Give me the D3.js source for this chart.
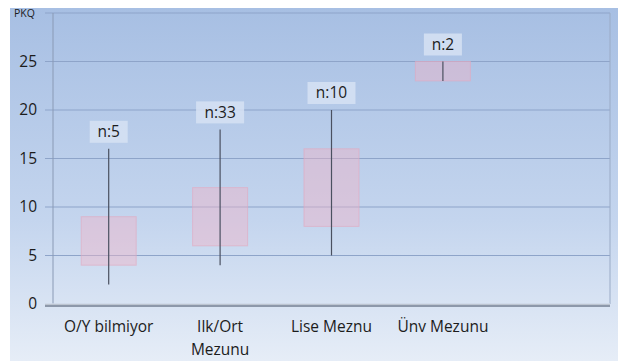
<!DOCTYPE html>
<html>
<head>
  <meta charset="utf-8">
  <title>PKQ</title>
  <script src="https://cdn.jsdelivr.net/npm/d3@7"></script>
  <style>
    body { margin: 0; background: #fff; }
    text { font-family: "Open Sans", sans-serif; fill: #1c1c1c; }
  </style>
</head>
<body>
  <script>
    // veriler
    const categories = ["O/Y bilmiyor", "Ilk/Ort Mezunu", "Lise Meznu", "Ünv Mezunu", ""];
    const boxLow = [4, 6, 8, 23];
    const boxHigh = [9, 12, 16, 25];
    const whiskerLow = [2, 4, 5, 23];
    const whiskerHigh = [16, 18, 20, 25];
    const counts = ["n:5", "n:33", "n:10", "n:2"];
    const yTicks = [0, 5, 10, 15, 20, 25];

    const w = 618, h = 361;
    const mLeft = 53, mRight = 610, mTop = 13, mBottom = 304;

    const svg = d3.select("body").append("svg")
      .attr("width", w).attr("height", h);

    const defs = svg.append("defs");
    const grad = defs.append("linearGradient").attr("id", "bg")
      .attr("x1", 0).attr("y1", 0).attr("x2", 0).attr("y2", 1);
    grad.append("stop").attr("offset", "0%").attr("stop-color", "#a7bfe3");
    grad.append("stop").attr("offset", "60%").attr("stop-color", "#c4d5ee");
    grad.append("stop").attr("offset", "100%").attr("stop-color", "#e6edf7");

    svg.append("rect").attr("x", 10).attr("y", 8)
      .attr("width", w - 10).attr("height", h - 8)
      .attr("fill", "url(#bg)");

    const x = d3.scaleBand().domain(categories.map((c, i) => i))
      .range([mLeft, mRight]).paddingInner(0.5).paddingOuter(0.25);
    const y = d3.scaleLinear().domain([0, 30]).range([mBottom, mTop]);

    // izgara
    svg.append("g").selectAll("line")
      .data(yTicks.concat([30]))
      .join("line")
      .attr("x1", mLeft - 8).attr("x2", mRight)
      .attr("y1", d => y(d)).attr("y2", d => y(d))
      .attr("stroke", "#8ea4c9").attr("stroke-width", 1.2);

    // eksen çizgileri
    svg.append("line").attr("x1", mLeft).attr("x2", mLeft)
      .attr("y1", mTop).attr("y2", mBottom)
      .attr("stroke", "#8a9ab5").attr("stroke-width", 1);
    svg.append("line").attr("x1", mRight).attr("x2", mRight)
      .attr("y1", mTop).attr("y2", mBottom)
      .attr("stroke", "#9aabc6").attr("stroke-width", 1);
    svg.append("line").attr("x1", mLeft - 8).attr("x2", mRight)
      .attr("y1", mBottom + 1.5).attr("y2", mBottom + 1.5)
      .attr("stroke", "#8d98aa").attr("stroke-width", 3);
    svg.append("line").attr("x1", mLeft - 8).attr("x2", mRight)
      .attr("y1", mBottom).attr("y2", mBottom)
      .attr("stroke", "#eef2f8").attr("stroke-width", 1);

    // y etiketleri
    svg.append("g").selectAll("text")
      .data(yTicks)
      .join("text")
      .attr("x", 37).attr("y", d => y(d))
      .attr("dy", "0.35em")
      .attr("text-anchor", "end")
      .attr("font-size", 15.5)
      .text(d => d);
    svg.append("text").attr("x", 14).attr("y", y(30))
      .attr("dy", "0.35em").attr("font-size", 10.5).attr("fill", "#333")
      .text("PKQ");

    const idx = d3.range(boxLow.length);
    const bw = 55;

    // kutular
    svg.append("g").selectAll("rect")
      .data(idx)
      .join("rect")
      .attr("x", i => x(i) + x.bandwidth() / 2 - bw / 2)
      .attr("width", bw)
      .attr("y", i => y(boxHigh[i]))
      .attr("height", i => y(boxLow[i]) - y(boxHigh[i]))
      .attr("fill", "#f0b4c8").attr("fill-opacity", 0.45)
      .attr("stroke", "#e2a9bf").attr("stroke-opacity", 0.6);

    // bıyıklar
    svg.append("g").selectAll("line")
      .data(idx)
      .join("line")
      .attr("x1", i => x(i) + x.bandwidth() / 2)
      .attr("x2", i => x(i) + x.bandwidth() / 2)
      .attr("y1", i => y(whiskerLow[i]))
      .attr("y2", i => y(whiskerHigh[i]))
      .attr("stroke", "#4a5060").attr("stroke-width", 1.2);

    // n etiketleri
    const lab = svg.append("g").selectAll("g")
      .data(idx)
      .join("g")
      .attr("transform", i => `translate(${x(i) + x.bandwidth() / 2},${y(whiskerHigh[i]) - 17})`);
    lab.append("rect")
      .attr("x", i => -counts[i].length * 5 - 4)
      .attr("width", i => counts[i].length * 10 + 8)
      .attr("y", -11).attr("height", 22)
      .attr("fill", "#d6e2f3").attr("fill-opacity", 0.85);
    lab.append("text")
      .attr("text-anchor", "middle").attr("dy", "0.35em")
      .attr("font-size", 15.5)
      .text(i => counts[i]);

    // kategori etiketleri
    const cat = svg.append("g").selectAll("text")
      .data(idx)
      .join("text")
      .attr("x", i => x(i) + x.bandwidth() / 2)
      .attr("y", 332)
      .attr("text-anchor", "middle")
      .attr("font-size", 15.5);
    cat.each(function (i) {
      const t = d3.select(this);
      const name = categories[i];
      const parts = name === "Ilk/Ort Mezunu" ? ["Ilk/Ort", "Mezunu"] : [name];
      parts.forEach((p, k) => {
        t.append("tspan").attr("x", x(i) + x.bandwidth() / 2)
          .attr("dy", k === 0 ? 0 : 23).text(p);
      });
    });
  </script>
</body>
</html>
